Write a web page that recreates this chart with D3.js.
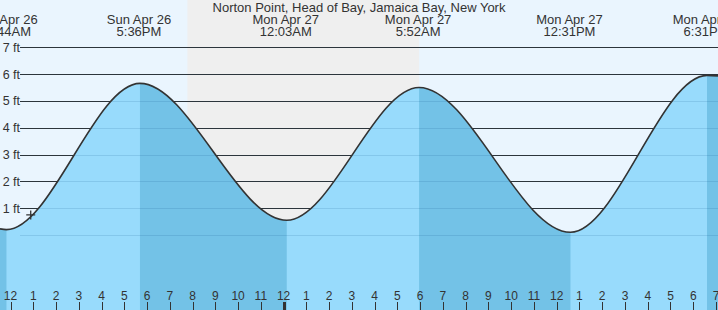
<!DOCTYPE html>
<html>
<head>
<meta charset="utf-8">
<script src="https://cdn.jsdelivr.net/npm/d3@7"></script>
<style>
  html, body { margin: 0; padding: 0; background: #fff; }
  svg { display: block; font-family: "Liberation Sans", Arial, sans-serif; }
</style>
</head>
<body>
<div id="chart"></div>
<script>
// tide extremes
const tideTimes = ["2026-04-26T11:44", "2026-04-26T17:36", "2026-04-27T00:03", "2026-04-27T05:52", "2026-04-27T12:31", "2026-04-27T18:31"]
const tideHeights = [0.2, 5.65, 0.55, 5.5, 0.1, 5.95]
const tideKinds = ["low", "high", "low", "high", "low", "high"]

// water level at the left and right edges of the window
const edgeTimes = ["2026-04-26T11:27", "2026-04-27T19:00"]
const edgeHeights = [0.23, 5.93]

// night (sunset / sunrise)
const nightTimes = ["2026-04-26T19:41", "2026-04-27T05:52"]

// current level marker
const nowTime = "2026-04-26T12:48"
const nowHeight = 0.75

const feetTicks = [0, 1, 2, 3, 4, 5, 6, 7]
const title = "Norton Point, Head of Bay, Jamaica Bay, New York"

const width = 718, height = 310
const parse = d3.timeParse("%Y-%m-%dT%H:%M")

let tides = tideTimes.map((t, i) => ({ date: parse(t), h: tideHeights[i], kind: tideKinds[i] }))
let curve = [{ date: parse(edgeTimes[0]), h: edgeHeights[0] }]
    .concat(tides)
    .concat([{ date: parse(edgeTimes[1]), h: edgeHeights[1] }])

let x = d3.scaleTime()
    .domain([parse(edgeTimes[0]), parse(edgeTimes[1])])
    .range([0, width])

let y = d3.scaleLinear()
    .domain([0, 7])
    .range([235, 47.2])

const svg = d3.select("#chart")
    .append("svg")
    .attr("width", width)
    .attr("height", height)

// backgrounds
svg.append("rect").attr("width", width).attr("height", height).attr("fill", "#eaf5fe")
svg.append("rect")
    .attr("x", x(parse(nightTimes[0])))
    .attr("width", x(parse(nightTimes[1])) - x(parse(nightTimes[0])))
    .attr("height", height)
    .attr("fill", "#efefef")

// grid lines + labels
let grid = svg.append("g")
grid.selectAll("line")
    .data(feetTicks)
    .join("line")
    .attr("x1", 20).attr("x2", width)
    .attr("y1", d => Math.round(y(d)) + 0.5).attr("y2", d => Math.round(y(d)) + 0.5)
    .attr("stroke", "#333")
grid.selectAll("text")
    .data(feetTicks)
    .join("text")
    .attr("x", 20)
    .attr("y", d => y(d) + 4.5)
    .attr("text-anchor", "end")
    .attr("font-size", 12.5)
    .attr("fill", "#333")
    .text(d => d + " ft")

// water
let area = d3.area()
    .x(d => x(d.date))
    .y0(height)
    .y1(d => y(d.h))
    .curve(d3.curveMonotoneX)

svg.append("clipPath").attr("id", "water")
    .append("path").attr("d", area(curve))

svg.append("path").attr("d", area(curve)).attr("fill", "#98dbfc")

// falling tide bands (high -> next low)
let bands = []
let start = x.domain()[0]
tides.forEach(t => {
    if (t.kind == "high") start = t.date
    else if (start) { bands.push([start, t.date]); start = null }
})
if (start) bands.push([start, x.domain()[1]])

svg.append("g")
    .attr("clip-path", "url(#water)")
    .selectAll("rect")
    .data(bands)
    .join("rect")
    .attr("x", d => x(d[0]))
    .attr("width", d => x(d[1]) - x(d[0]))
    .attr("height", height)
    .attr("fill", "#73c2e7")

svg.append("g")
    .selectAll("line")
    .data(feetTicks)
    .join("line")
    .attr("x1", 20).attr("x2", width)
    .attr("y1", d => Math.round(y(d)) + 0.5).attr("y2", d => Math.round(y(d)) + 0.5)
    .attr("stroke", "rgba(0,70,120,0.13)")

svg.append("path")
    .attr("d", d3.line().x(d => x(d.date)).y(d => y(d.h)).curve(d3.curveMonotoneX)(curve))
    .attr("fill", "none")
    .attr("stroke", "#333")
    .attr("stroke-width", 1.6)

// current level
svg.append("path")
    .attr("transform", `translate(${x(parse(nowTime))},${y(nowHeight)})`)
    .attr("d", "M-4.5,0H4.5M0,-4.5V4.5")
    .attr("stroke", "#333")
    .attr("stroke-width", 1.3)

// tide time labels
let fmtDay = d3.timeFormat("%a %b %-d")
let fmtTime = d3.timeFormat("%-I:%M%p")
let labels = svg.append("g")
    .attr("font-size", 13)
    .attr("fill", "#333")
    .attr("text-anchor", "middle")
labels.selectAll("text.day")
    .data(tides)
    .join("text")
    .attr("class", "day")
    .attr("x", d => x(d.date) - 1)
    .attr("y", 24)
    .text(d => fmtDay(d.date))
labels.selectAll("text.time")
    .data(tides)
    .join("text")
    .attr("class", "time")
    .attr("x", d => x(d.date) - 1)
    .attr("y", 36)
    .text(d => fmtTime(d.date))

svg.append("text")
    .attr("x", width / 2)
    .attr("y", 12)
    .attr("text-anchor", "middle")
    .attr("font-size", 13)
    .attr("fill", "#333")
    .text(title)

// hour ticks
let hours = d3.timeHour.range(d3.timeHour.ceil(x.domain()[0]), d3.timeMinute.offset(x.domain()[1], 1))
let hourAxis = svg.append("g")
hourAxis.selectAll("line")
    .data(hours)
    .join("line")
    .attr("x1", d => Math.round(x(d) - 2) + 0.5)
    .attr("x2", d => Math.round(x(d) - 2) + 0.5)
    .attr("y1", 302).attr("y2", height)
    .attr("stroke", "#333")
    .attr("stroke-width", d => d.getHours() == 0 ? 3 : 1)
hourAxis.selectAll("text")
    .data(hours)
    .join("text")
    .attr("x", d => x(d) - 2)
    .attr("y", 300)
    .attr("text-anchor", "middle")
    .attr("font-size", 12)
    .attr("fill", "#333")
    .text(d => d.getHours() % 12 || 12)
</script>
</body>
</html>
